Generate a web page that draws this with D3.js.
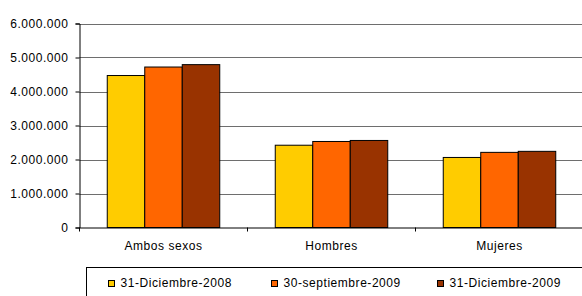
<!DOCTYPE html>
<html>
<head>
<meta charset="utf-8">
<script src="https://cdn.jsdelivr.net/npm/d3@7"></script>
<style>
  body { margin: 0; background: #fff; }
  svg text { font-family: "Liberation Sans", Arial, sans-serif; font-size: 12px; fill: #000; letter-spacing: 0.55px; }
</style>
</head>
<body>
<div id="chart"></div>
<script>
// values
var categories = ["Ambos sexos", "Hombres", "Mujeres"];
var seriesNames = ["31-Diciembre-2008", "30-septiembre-2009", "31-Diciembre-2009"];
var seriesColors = ["#ffcc00", "#ff6600", "#993300"];
var dic2008 = [4470000, 2420000, 2060000];
var sep2009 = [4720000, 2530000, 2210000];
var dic2009 = [4790000, 2560000, 2240000];
var yTicks = [0, 1000000, 2000000, 3000000, 4000000, 5000000, 6000000];

var seriesValues = [dic2008, sep2009, dic2009];

function formatNum(v) {
  return String(v).replace(/\B(?=(\d{3})+(?!\d))/g, ".");
}

function drawChart() {
  var width = 582, height = 296;
  var left = 79.5, right = 583.5, top = 23.5, bottom = 227.5;

  var svg = d3.select("#chart").append("svg")
      .attr("width", width)
      .attr("height", height);

  var x0 = d3.scaleBand().domain(categories).range([left, right]).padding(0);
  var x1 = d3.scaleBand().domain(seriesNames).range([0, x0.bandwidth()])
      .paddingInner(0).paddingOuter(0.74);
  var y = d3.scaleLinear().domain([0, 6000000]).range([bottom, top]);

  // gridlines
  svg.append("g").selectAll("line")
    .data(yTicks.slice(1))
    .enter().append("line")
    .attr("x1", left).attr("x2", right)
    .attr("y1", function(d) { return Math.round(y(d)) + 0.5; })
    .attr("y2", function(d) { return Math.round(y(d)) + 0.5; })
    .attr("stroke", "#6e6e6e")
    .attr("stroke-width", 1);

  // bars
  var groups = svg.append("g").selectAll("g")
    .data(categories)
    .enter().append("g")
    .attr("transform", function(d) { return "translate(" + x0(d) + ",0)"; });

  groups.selectAll("rect")
    .data(function(d, i) {
      return seriesNames.map(function(s, j) { return {name: s, value: seriesValues[j][i], color: seriesColors[j]}; });
    })
    .enter().append("rect")
    .attr("x", function(d) { return x1(d.name); })
    .attr("y", function(d) { return y(d.value); })
    .attr("width", x1.bandwidth())
    .attr("height", function(d) { return bottom - y(d.value); })
    .attr("fill", function(d) { return d.color; })
    .attr("stroke", "#000")
    .attr("stroke-width", 1);

  // y axis
  var yAxis = d3.axisLeft(y).tickValues(yTicks).tickSize(4).tickPadding(7)
      .tickFormat(formatNum);
  var gy = svg.append("g").attr("transform", "translate(" + left + ",0)").call(yAxis);
  gy.select(".domain").attr("stroke", "#000");
  gy.selectAll(".tick line").attr("stroke", "#000");
  gy.selectAll("text").style("font-size", "12px").attr("fill", "#000");

  // x axis
  var xAxis = d3.axisBottom(x0).tickSize(0).tickPadding(14);
  var gx = svg.append("g").attr("transform", "translate(0," + bottom + ")").call(xAxis);
  gx.select(".domain").attr("stroke", "#000");
  gx.selectAll("text").style("font-size", "12px").attr("fill", "#000");
  gx.selectAll("line.sep")
    .data(categories)
    .enter().append("line")
    .attr("class", "sep")
    .attr("x1", function(d) { return x0(d); })
    .attr("x2", function(d) { return x0(d); })
    .attr("y1", 0).attr("y2", 4)
    .attr("stroke", "#000");

  // legend
  var legend = svg.append("g");
  legend.append("rect")
    .attr("x", 86.5).attr("y", 267.5)
    .attr("width", 520).attr("height", 40)
    .attr("fill", "none")
    .attr("stroke", "#000");

  var legendX = [108.5, 271.5, 437.5];
  var items = legend.selectAll("g.item")
    .data(seriesNames)
    .enter().append("g")
    .attr("class", "item")
    .attr("transform", function(d, i) { return "translate(" + legendX[i] + ",280.5)"; });
  items.append("rect")
    .attr("width", 6).attr("height", 6)
    .attr("fill", function(d, i) { return seriesColors[i]; })
    .attr("stroke", "#000");
  items.append("text")
    .attr("x", 12).attr("y", 6.5)
    .text(function(d) { return d; });
}

document.addEventListener('DOMContentLoaded', function () {
  drawChart();
});
</script>
</body>
</html>
